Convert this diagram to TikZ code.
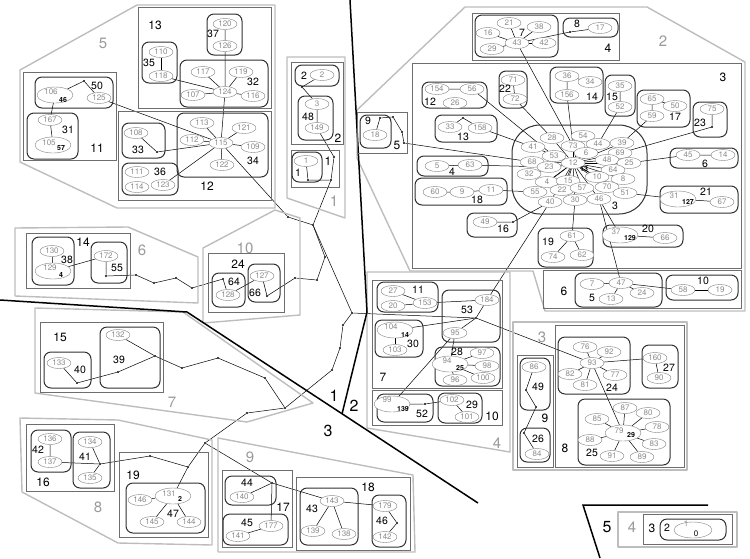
\documentclass[tikz,border=0pt]{standalone}
\usepackage{fontspec}
\setmainfont{TeX Gyre Heros}
\usetikzlibrary{shapes.geometric}
\pgfdeclarelayer{bg}
\pgfsetlayers{bg,main}
\definecolor{elgray}{HTML}{808080}
\definecolor{txgray}{HTML}{8C8C8C}
\definecolor{grpcol}{HTML}{303030}
\definecolor{boxcol}{HTML}{6E6E6E}
\definecolor{regcol}{HTML}{BDBDBD}
\definecolor{reggray}{HTML}{9A9A9A}
\newcommand{\ellfont}{\fontsize{8}{9}\selectfont}
\newcommand{\smallbold}{\fontsize{7}{8}\selectfont\bfseries}
\newcommand{\grplabfont}{\fontsize{10.5}{12}\selectfont}
\newcommand{\boxlabfont}{\fontsize{12}{14}\selectfont}
\newcommand{\reglabfont}{\fontsize{15}{17}\selectfont}
\newcommand{\divlabfont}{\fontsize{16}{18}\selectfont}

\begin{document}
\begin{tikzpicture}[x=1pt, y=-1pt,
  el/.style={ellipse, draw=elgray, fill=white, text=txgray, font=\ellfont, minimum width=24pt, minimum height=11pt, inner sep=0pt},
  bigel/.style={el, minimum width=36pt, minimum height=16pt},
  eltx/.style={text=txgray, font=\ellfont, inner sep=0pt},
  sb/.style={font=\smallbold, inner sep=0pt},
  grp/.style={draw=grpcol, line width=1pt, rounded corners=7pt},
  box/.style={draw=boxcol, line width=0.8pt},
  region/.style={draw=regcol, line width=1.4pt, line join=round},
  glab/.style={font=\grplabfont, inner sep=0pt},
  blab/.style={font=\boxlabfont, inner sep=0pt},
  rlab/.style={font=\reglabfont, text=reggray, inner sep=0pt},
  dlab/.style={font=\divlabfont, inner sep=0pt},
  dot/.style={circle, fill=black, inner sep=0pt, minimum size=2.2pt},
  link/.style={black, line width=0.5pt},
  divide/.style={black, line width=1.5pt}]
  \useasboundingbox (0,0) rectangle (750,558);

  % regions
  \draw[region] (20,70) -- (137,5) -- (275,5) -- (275,208) -- (117,208) -- (20,162) -- cycle;
  \draw[region] (287,57) -- (345,57) -- (345,218) -- (287,198) -- cycle;
  \draw[region] (15,228) -- (128,227) -- (198,257) -- (198,303) -- (15,296) -- cycle;
  \draw[region] (203,248) -- (275,210) -- (300,218) -- (300,315) -- (203,323) -- cycle;
  \draw[region] (35,308) -- (183,312) -- (313,403) -- (247,422) -- (35,393) -- cycle;
  \draw[region] (20,418) -- (118,420) -- (212,440) -- (212,545) -- (118,543) -- (22,492) -- cycle;
  \draw[region] (218,438) -- (413,475) -- (415,552) -- (218,552) -- cycle;
  \draw[region] (367,272) -- (510,272) -- (510,452) -- (367,428) -- cycle;
  \draw[region] (513,322) rectangle (687,470);
  \draw[region] (465,7) -- (647,7) -- (745,62) -- (745,311) -- (545,311) -- (533,271) -- (410,271) -- (357,158) -- (357,110) -- cycle;
  \draw[region] (618,512) rectangle (737,547);
  \node[rlab] (r5) at (103,43) {5};
  \node[rlab] (r1) at (334,201) {1};
  \node[rlab] (r6) at (142,250) {6};
  \node[rlab] (r10) at (245,248) {10};
  \node[rlab] (r7) at (172,402) {7};
  \node[rlab] (r8) at (98,507) {8};
  \node[rlab] (r9) at (250,457) {9};
  \node[rlab] (r4) at (497,443) {4};
  \node[rlab] (r3) at (542,337) {3};
  \node[rlab] (r2) at (663,41) {2};
  \node[rlab] (r4b) at (632,527) {4};

  % dividing lines
  \draw[divide] (350,0) -- (367,312) -- (342,414);
  \draw[divide] (0,300) -- (187,312) -- (478,503);
  \draw[divide] (708,505) -- (583,505) -- (600,558);
  \node[dlab] (d1) at (334,396) {1};
  \node[dlab] (d2) at (354,406) {2};
  \node[dlab] (d3) at (328,431) {3};
  \node[dlab] (d5) at (607,527) {5};

  % region 5
  \draw[box] (23,72) rectangle (116,160);
  \node[blab] (l11) at (97,148) {11};
  \draw[grp] (35,77) rectangle (113,108);
  \node[bigel] (e106) at (55,95) {};
  \node[eltx] (t106) at (51,92) {106};
  \node[sb] (s46) at (63,100) {46};
  \node[el] (e125) at (99,98) {125};
  \node[glab] (l50) at (97,86) {50};
  \node[dot] (p50) at (84,81) {};
  \draw[grp] (27,113) rectangle (78,159);
  \node[el] (e167) at (50,120) {167};
  \node[bigel] (e105) at (53,145) {};
  \node[eltx] (t105) at (49,143) {105};
  \node[sb] (s57) at (61,148) {57};
  \node[glab] (l31) at (68,130) {31};
  \draw[box] (138,7) rectangle (271,108);
  \node[blab] (l13) at (155,25) {13};
  \draw[grp] (142,42) rectangle (177,83);
  \node[el] (e110) at (161,52) {110};
  \node[el] (e118) at (161,76) {118};
  \node[glab] (l35) at (149,63) {35};
  \draw[grp] (207,14) rectangle (242,55);
  \node[el] (e120) at (225,24) {120};
  \node[el] (e126) at (225,46) {126};
  \node[glab] (l37) at (213,34) {37};
  \draw[grp] (180,60) rectangle (268,107);
  \node[el] (e117) at (203,72) {117};
  \node[el] (e119) at (241,72) {119};
  \node[el] (e107) at (193,95) {107};
  \node[el] (e124) at (225,92) {124};
  \node[el] (e116) at (253,96) {116};
  \node[glab] (l32) at (253,82) {32};
  \draw[box] (118,111) rectangle (271,200);
  \node[blab] (l12) at (207,186) {12};
  \draw[grp] (177,113) rectangle (268,177);
  \node[el] (e113) at (202,123) {113};
  \node[el] (e121) at (244,128) {121};
  \node[el] (e112) at (192,140) {112};
  \node[el] (e115) at (221,143) {115};
  \node[el] (e109) at (253,147) {109};
  \node[el] (e122) at (222,165) {122};
  \node[glab] (l34) at (253,161) {34};
  \draw[grp] (122,123) rectangle (165,158);
  \node[el] (e108) at (136,133) {108};
  \node[glab] (l33) at (138,150) {33};
  \node[dot] (p33) at (157,152) {};
  \draw[grp] (122,163) rectangle (178,195);
  \node[el] (e111) at (137,172) {111};
  \node[el] (e114) at (137,187) {114};
  \node[el] (e123) at (163,185) {123};
  \node[glab] (l36) at (160,172) {36};

  % region 1
  \draw[box] (291,62) rectangle (343,144);
  \node[blab] (l2box) at (338,138) {2};
  \draw[grp] (295,65) rectangle (339,86);
  \node[el] (e2) at (322,75) {2};
  \node[glab] (l2) at (304,76) {2};
  \node[dot] (p2) at (302,87) {};
  \draw[grp] (298,96) rectangle (333,140);
  \node[el] (e3) at (317,104) {3};
  \node[el] (e149) at (317,128) {149};
  \node[glab] (l48) at (308,117) {48};
  \draw[box] (291,150) rectangle (339,187);
  \node[blab] (l1box) at (328,161) {1};
  \draw[grp] (292,152) rectangle (322,182);
  \node[el] (e1) at (306,161) {1};
  \node[glab] (l1) at (298,173) {1};
  \node[dot] (p1a) at (308,180) {};
  \node[dot] (p1b) at (331,180) {};
  \node[dot] (p1c) at (334,157) {};

  % region 6
  \draw[box] (26,233) rectangle (130,288);
  \node[blab] (l14) at (83,242) {14};
  \draw[grp] (32,237) rectangle (74,285);
  \node[el] (e130) at (52,251) {130};
  \node[bigel] (e129) at (53,271) {};
  \node[eltx] (t129) at (50,268) {129};
  \node[sb] (s4) at (61,275) {4};
  \node[glab] (l38) at (67,260) {38};
  \draw[grp] (91,242) rectangle (127,283);
  \node[el] (e172) at (106,256) {172};
  \node[glab] (l55) at (117,268) {55};
  \node[dot] (p55) at (106,276) {};

  % region 10
  \draw[box] (208,253) rectangle (284,312);
  \node[blab] (l24) at (238,264) {24};
  \draw[grp] (212,273) rectangle (245,307);
  \node[el] (e128) at (228,295) {128};
  \node[glab] (l64) at (234,282) {64};
  \node[dot] (p64) at (223,279) {};
  \draw[grp] (248,264) rectangle (280,302);
  \node[el] (e127) at (262,276) {127};
  \node[glab] (l66) at (255,293) {66};
  \node[dot] (p66) at (267,296) {};

  % region 7
  \draw[box] (40,322) rectangle (163,392);
  \node[blab] (l15) at (60,337) {15};
  \draw[grp] (44,352) rectangle (91,388);
  \node[el] (e133) at (59,363) {133};
  \node[glab] (l40) at (80,370) {40};
  \node[dot] (p40) at (77,383) {};
  \draw[grp] (100,327) rectangle (160,388);
  \node[el] (e132) at (118,335) {132};
  \node[glab] (l39) at (119,360) {39};
  \node[dot] (p39a) at (118,372) {};
  \node[dot] (p39b) at (155,356) {};

  % region 8
  \draw[box] (26,424) rectangle (114,491);
  \node[blab] (l16) at (43,482) {16};
  \draw[grp] (31,430) rectangle (71,472);
  \node[el] (e136) at (50,439) {136};
  \node[el] (e137) at (50,462) {137};
  \node[glab] (l42) at (38,450) {42};
  \draw[grp] (73,432) rectangle (110,488);
  \node[el] (e134) at (90,442) {134};
  \node[el] (e135) at (90,478) {135};
  \node[glab] (l41) at (85,457) {41};
  \node[dot] (p41) at (100,464) {};
  \draw[box] (119,452) rectangle (208,537);
  \node[blab] (l19) at (133,475) {19};
  \draw[grp] (126,483) rectangle (205,533);
  \node[el] (e146) at (140,500) {146};
  \node[bigel] (e131) at (173,496) {};
  \node[eltx] (t131) at (169,494) {131};
  \node[sb] (s2) at (180,499) {2};
  \node[el] (e145) at (152,522) {145};
  \node[el] (e144) at (189,522) {144};
  \node[glab] (l47) at (173,514) {47};

  % region 9
  \draw[box] (222,470) rectangle (292,547);
  \node[blab] (l17) at (283,507) {17};
  \draw[grp] (225,476) rectangle (276,505);
  \node[glab] (l44) at (247,483) {44};
  \node[el] (e140) at (242,497) {140};
  \node[dot] (p44) at (272,483) {};
  \draw[grp] (223,514) rectangle (288,545);
  \node[glab] (l45) at (247,523) {45};
  \node[el] (e177) at (271,526) {177};
  \node[el] (e141) at (238,536) {141};
  \draw[box] (296,477) rectangle (410,550);
  \node[blab] (l18) at (368,487) {18};
  \draw[grp] (300,488) rectangle (358,545);
  \node[el] (e143) at (332,501) {143};
  \node[el] (e139) at (313,531) {139};
  \node[el] (e138) at (344,534) {138};
  \node[glab] (l43) at (312,509) {43};
  \draw[grp] (372,495) rectangle (406,547);
  \node[el] (e179) at (385,506) {179};
  \node[el] (e142) at (385,537) {142};
  \node[glab] (l46) at (382,521) {46};
  \node[dot] (p46) at (397,523) {};

  % region 4
  \draw[box] (372,280) rectangle (502,388);
  \node[blab] (l7) at (383,377) {7};
  \draw[box] (372,390) rectangle (502,425);
  \node[blab] (l10) at (492,416) {10};
  \draw[grp] (377,282) rectangle (438,312);
  \node[el] (e27) at (393,291) {27};
  \node[el] (e20) at (393,306) {20};
  \node[el] (e153) at (425,303) {153};
  \node[glab] (l11b) at (418,290) {11};
  \draw[grp] (442,290) rectangle (500,342);
  \node[el] (e184) at (487,300) {184};
  \node[el] (e95) at (455,333) {95};
  \node[glab] (l53) at (467,310) {53};
  \node[dot] (p53) at (476,318) {};
  \draw[grp] (375,320) rectangle (423,357);
  \node[bigel] (e104) at (395,330) {};
  \node[eltx] (t104) at (391,327) {104};
  \node[sb] (s14) at (405,335) {14};
  \node[el] (e103) at (395,350) {103};
  \node[glab] (l30) at (413,344) {30};
  \draw[grp] (435,347) rectangle (500,386);
  \node[el] (e97) at (482,353) {97};
  \node[bigel] (e94) at (450,364) {};
  \node[eltx] (t94) at (447,361) {94};
  \node[sb] (s25) at (460,368) {25};
  \node[el] (e98) at (487,366) {98};
  \node[el] (e100) at (483,378) {100};
  \node[el] (e96) at (455,380) {96};
  \node[glab] (l28) at (457,352) {28};
  \draw[grp] (377,394) rectangle (433,422);
  \node[bigel] (e99) at (392,404) {};
  \node[eltx] (t99) at (387,400) {99};
  \node[sb] (s139) at (403,409) {139};
  \node[glab] (l52) at (422,414) {52};
  \node[dot] (p52) at (425,404) {};
  \draw[grp] (438,393) rectangle (482,423);
  \node[el] (e102) at (452,400) {102};
  \node[el] (e101) at (467,417) {101};
  \node[glab] (l29) at (472,405) {29};

  % region 3
  \draw[box] (517,355) rectangle (553,467);
  \node[blab] (l9) at (545,418) {9};
  \draw[grp] (520,358) rectangle (550,410);
  \node[el] (e86) at (534,367) {86};
  \node[glab] (l49) at (538,387) {49};
  \node[dot] (p49a) at (526,390) {};
  \node[dot] (p49b) at (536,407) {};
  \draw[grp] (520,428) rectangle (550,462);
  \node[glab] (l26) at (538,439) {26};
  \node[el] (e84) at (537,454) {84};
  \node[dot] (p26) at (524,433) {};
  \draw[box] (555,325) rectangle (684,467);
  \node[blab] (l8) at (565,448) {8};
  \draw[grp] (558,337) rectangle (630,394);
  \node[el] (e76) at (585,347) {76};
  \node[el] (e92) at (609,352) {92};
  \node[el] (e93) at (592,363) {93};
  \node[el] (e82) at (570,374) {82};
  \node[el] (e77) at (615,375) {77};
  \node[el] (e81) at (585,385) {81};
  \node[glab] (l24b) at (612,388) {24};
  \draw[grp] (642,345) rectangle (678,388);
  \node[el] (e160) at (655,358) {160};
  \node[el] (e90) at (659,378) {90};
  \node[glab] (l27) at (669,368) {27};
  \draw[grp] (578,399) rectangle (670,465);
  \node[el] (e87) at (625,408) {87};
  \node[el] (e80) at (648,413) {80};
  \node[el] (e85) at (597,419) {85};
  \node[el] (e78) at (657,427) {78};
  \node[bigel] (e79) at (623,433) {};
  \node[eltx] (t79) at (619,431) {79};
  \node[sb] (s29) at (631,435) {29};
  \node[el] (e88) at (590,440) {88};
  \node[el] (e83) at (654,444) {83};
  \node[el] (e91) at (612,456) {91};
  \node[el] (e89) at (642,457) {89};
  \node[glab] (l25) at (592,453) {25};

  % region 2
  \draw[box] (472,13) rectangle (619,60);
  \node[blab] (l4) at (608,48) {4};
  \draw[grp] (475,15) rectangle (558,57);
  \node[el] (e21) at (509,23) {21};
  \node[el] (e38) at (539,27) {38};
  \node[el] (e16) at (488,33) {16};
  \node[el] (e43) at (517,43) {43};
  \node[el] (e42) at (544,43) {42};
  \node[el] (e29) at (492,49) {29};
  \node[glab] (l7b) at (522,33) {7};
  \draw[grp] (563,18) rectangle (618,37);
  \node[glab] (l8b) at (577,24) {8};
  \node[el] (e17) at (600,28) {17};
  \node[dot] (p8) at (570,32) {};

  \draw[box] (357,112) rectangle (407,153);
  \node[blab] (l5) at (397,145) {5};
  \draw[grp] (360,115) rectangle (391,148);
  \node[glab] (l9b) at (368,121) {9};
  \node[el] (e18) at (375,135) {18};
  \node[dot] (p5a) at (380,118) {};
  \node[dot] (p5b) at (393,117) {};
  \node[dot] (p5c) at (402,132) {};
  \node[dot] (p5d) at (404,143) {};

  \draw[box] (543,270) rectangle (741,308);
  \node[blab] (l6) at (564,291) {6};
  \draw[grp] (575,273) rectangle (662,307);
  \node[el] (e7) at (592,284) {7};
  \node[el] (e47) at (621,283) {47};
  \node[el] (e24) at (642,293) {24};
  \node[el] (e13) at (611,299) {13};
  \node[glab] (l5b) at (592,298) {5};
  \draw[grp] (666,275) rectangle (738,300);
  \node[el] (e58) at (683,290) {58};
  \node[el] (e19) at (720,290) {19};
  \node[glab] (l10b) at (703,281) {10};

  \draw[box] (412,63) rectangle (741,268);
  \node[blab] (l3) at (723,77) {3};
  \draw[grp] (422,82) rectangle (487,108);
  \node[el] (e154) at (437,89) {154};
  \node[el] (e56) at (472,89) {56};
  \node[el] (e26) at (455,103) {26};
  \node[glab] (l12b) at (430,102) {12};
  \draw[grp] (499,71) rectangle (527,108);
  \node[el] (e71) at (513,80) {71};
  \node[el] (e72) at (515,99) {72};
  \node[glab] (l22) at (505,89) {22};
  \draw[grp] (435,115) rectangle (497,142);
  \node[el] (e33) at (450,127) {33};
  \node[el] (e158) at (480,128) {158};
  \node[glab] (l13b) at (463,137) {13};
  \node[dot] (p13) at (463,118) {};
  \draw[grp] (417,156) rectangle (488,176);
  \node[el] (e5) at (437,166) {5};
  \node[el] (e63) at (470,165) {63};
  \node[glab] (l4b) at (452,172) {4};
  \draw[grp] (415,178) rectangle (507,205);
  \node[el] (e60) at (435,192) {60};
  \node[el] (e9) at (462,192) {9};
  \node[el] (e11) at (491,190) {11};
  \node[glab] (l18b) at (477,200) {18};
  \draw[grp] (467,213) rectangle (517,237);
  \node[el] (e49) at (485,222) {49};
  \node[glab] (l16b) at (503,229) {16};
  \node[dot] (p16) at (513,222) {};
  \draw[grp] (538,228) rectangle (593,267);
  \node[el] (e61) at (572,236) {61};
  \node[el] (e74) at (553,257) {74};
  \node[el] (e62) at (582,255) {62};
  \node[glab] (l19b) at (548,242) {19};
  \draw[grp] (603,225) rectangle (683,247);
  \node[bigel] (e37) at (620,235) {};
  \node[eltx] (t37) at (616,232) {37};
  \node[sb] (s129) at (630,238) {129};
  \node[el] (e66) at (665,238) {66};
  \node[glab] (l20) at (648,229) {20};
  \draw[grp] (660,186) rectangle (738,213);
  \node[bigel] (e31) at (678,199) {};
  \node[eltx] (t31) at (674,196) {31};
  \node[sb] (s127) at (688,202) {127};
  \node[el] (e67) at (722,202) {67};
  \node[glab] (l21) at (706,192) {21};
  \draw[grp] (670,148) rectangle (738,168);
  \node[el] (e45) at (688,155) {45};
  \node[el] (e14) at (723,155) {14};
  \node[glab] (l6b) at (705,164) {6};
  \draw[grp] (693,102) rectangle (727,137);
  \node[el] (e75) at (712,109) {75};
  \node[glab] (l23) at (700,123) {23};
  \node[dot] (p23) at (712,127) {};
  \draw[grp] (637,90) rectangle (690,127);
  \node[el] (e65) at (652,99) {65};
  \node[el] (e50) at (675,106) {50};
  \node[el] (e59) at (652,116) {59};
  \node[glab] (l17b) at (675,117) {17};
  \draw[grp] (605,75) rectangle (635,116);
  \node[el] (e35) at (620,86) {35};
  \node[el] (e52) at (620,107) {52};
  \node[glab] (l15b) at (612,97) {15};
  \draw[grp] (550,67) rectangle (603,103);
  \node[el] (e36) at (567,76) {36};
  \node[el] (e34) at (590,82) {34};
  \node[el] (e156) at (567,95) {156};
  \node[glab] (l14b) at (592,97) {14};

  % central group 3
  \draw[grp, rounded corners=28pt] (512,125) rectangle (647,214);
  \node[glab] (l3b) at (615,206) {3};
  \node[el] (e28) at (552,138) {28};
  \node[el] (e54) at (583,136) {54};
  \node[el] (e73) at (573,146) {73};
  \node[el] (e44) at (598,144) {44};
  \node[el] (e39) at (622,143) {39};
  \node[el] (e41) at (533,147) {41};
  \node[el] (e53) at (554,156) {53};
  \node[el] (e6) at (586,153) {6};
  \node[el] (e69) at (620,153) {69};
  \node[el] (e68) at (532,162) {68};
  \node[el] (e23) at (549,167) {23};
  \node[el] (e48) at (607,160) {48};
  \node[el] (e25) at (629,163) {25};
  \node[el] (e32) at (529,174) {32};
  \node[el] (e64) at (613,170) {64};
  \node[el] (e4) at (547,182) {4};
  \node[el] (e15) at (568,181) {15};
  \node[el] (e10) at (597,177) {10};
  \node[el] (e8) at (623,179) {8};
  \node[el] (e55) at (535,192) {55};
  \node[el] (e22) at (562,190) {22};
  \node[el] (e57) at (582,188) {57};
  \node[el] (e70) at (607,187) {70};
  \node[el] (e51) at (625,193) {51};
  \node[el] (e40) at (550,202) {40};
  \node[el] (e30) at (575,200) {30};
  \node[el] (e46) at (599,199) {46};
  \node[el] (e12) at (573,163) {12};
  \node[sb] (s13) at (584,169) {13};

  % chain points between regions
  \node[dot] (c1) at (288,217) {};
  \node[dot] (c2) at (313,225) {};
  \node[dot] (c3) at (325,257) {};
  \node[dot] (c4) at (317,280) {};
  \node[dot] (c5) at (295,278) {};
  \node[dot] (cj) at (352,313) {};
  \node[dot] (c6) at (343,325) {};
  \node[dot] (c7) at (340,348) {};
  \node[dot] (c8) at (332,370) {};
  \node[dot] (c9) at (285,408) {};
  \node[dot] (c10) at (265,378) {};
  \node[dot] (c11) at (218,358) {};
  \node[dot] (c12) at (182,368) {};
  \node[dot] (c13) at (247,413) {};
  \node[dot] (c14) at (205,443) {};
  \node[dot] (c15) at (188,467) {};
  \node[dot] (c16) at (150,456) {};
  \node[dot] (c17) at (136,275) {};
  \node[dot] (c18) at (154,283) {};
  \node[dot] (c19) at (176,278) {};
  \node[dot] (c20) at (192,288) {};

  % region 4 (bottom right)
  \draw[box] (643,514) rectangle (732,544);
  \node[blab] (l3c) at (652,528) {3};
  \draw[grp] (660,519) rectangle (726,540);
  \node[glab] (l2c) at (667,528) {2};
  \node[el, minimum width=38pt, minimum height=16pt] (e1b) at (693,530) {};
  \node[eltx] (t1) at (686,524) {1};
  \node[sb, font=\ellfont] (t0) at (696,534) {0};

  % connections
  \begin{pgfonlayer}{bg}
  \draw[link] (e106) -- (p50) -- (e125);
  \draw[link] (e106) -- (e167) -- (e105);
  \draw[link] (e110) -- (e118);
  \draw[link] (e118) -- (e124);
  \draw[link] (e120) -- (e126) -- (e124) -- (e115);
  \foreach \n in {e117,e119,e107,e116} \draw[link] (e124) -- (\n);
  \foreach \n in {e113,e121,e112,e109,e122} \draw[link] (e115) -- (\n);
  \draw[link] (e125) -- (e115);
  \draw[link] (e108) -- (p33) -- (e115);
  \draw[link] (e123) -- (e115);
  \draw[link] (e2) -- (p2) -- (e3) -- (e149);
  \draw[link] (e149) -- (p1c) -- (p1b);
  \draw[link] (e1) -- (p1a) -- (p1b);
  \draw[link] (e130) -- (e129) -- (e172) -- (p55);
  \draw[link] (p64) -- (e128) -- (e127) -- (p66);
  \draw[link] (e133) -- (p40) -- (p39a) -- (p39b);
  \draw[link] (e132) -- (p39b);
  \draw[link] (e136) -- (e137) -- (p41);
  \draw[link] (e134) -- (p41) -- (e135);
  \foreach \n in {e146,e145,e144} \draw[link] (e131) -- (\n);
  \draw[link] (e140) -- (p44) -- (e177) -- (e141);
  \draw[link] (p44) -- (e143);
  \draw[link] (e143) -- (e139);
  \draw[link] (e143) -- (e138);
  \draw[link] (e143) -- (e179) -- (p46) -- (e142);
  \draw[link] (e27) -- (e153);
  \draw[link] (e20) -- (e153) -- (e184) -- (p53) -- (e95);
  \draw[link] (e104) -- (p53);
  \draw[link] (e104) -- (e103);
  \draw[link] (e95) -- (e94);
  \foreach \n in {e97,e98,e100,e96} \draw[link] (e94) -- (\n);
  \draw[link] (e95) -- (e99) -- (p52) -- (e102) -- (e101);
  \draw[link] (e86) -- (p49a) -- (p49b) -- (p26) -- (e84);
  \foreach \n in {e76,e92,e82,e77,e81,e160,e79} \draw[link] (e93) -- (\n);
  \draw[link] (e160) -- (e90);
  \foreach \n in {e87,e80,e85,e78,e88,e83,e91,e89} \draw[link] (e79) -- (\n);
  \foreach \n in {e21,e38,e16,e42,e29} \draw[link] (e43) -- (\n);
  \draw[link] (e43) -- (p8) -- (e17);
  \draw[link] (e18) -- (p5a) -- (p5b) -- (p5c) -- (p5d);
  \foreach \n in {e7,e13,e24,e58} \draw[link] (e47) -- (\n);
  \draw[link] (e58) -- (e19);
  \draw[link] (e154) -- (e56) -- (e53);
  \draw[link] (e71) -- (e72) -- (e28);
  \draw[link] (e33) -- (p13) -- (e158) -- (e41);
  \draw[link] (e5) -- (e63) -- (e23);
  \draw[link] (e60) -- (e9) -- (e11) -- (e55);
  \draw[link] (e49) -- (p16) -- (e40);
  \draw[link] (e74) -- (e61) -- (e62);
  \draw[link] (e61) -- (e30);
  \draw[link] (e37) -- (e66);
  \draw[link] (e37) -- (e46) -- (e47);
  \draw[link] (e31) -- (e67);
  \draw[link] (e31) -- (e51);
  \draw[link] (e14) -- (e45) -- (e25);
  \draw[link] (e75) -- (p23) -- (e69);
  \draw[link] (e50) -- (e65) -- (e59) -- (e39);
  \draw[link] (e35) -- (e52) -- (e44);
  \draw[link] (e34) -- (e36) -- (e156) -- (e73);
  \draw[link] (e43) -- (e73);
  \draw[link] (p5d) -- (e68);
  \draw[link] (e40) -- (e184);
  \foreach \n in {e28,e54,e73,e44,e39,e41,e53,e6,e69,e68,e23,e48,e25,e32,e64,e4,e15,e10,e8,e55,e22,e57,e70,e51,e40,e30,e46}
    \draw[link] (e12) -- (\n);
  \draw[link] (e115) -- (c1) -- (c2);
  \draw[link] (p1b) -- (c2);
  \draw[link] (c2) -- (c3) -- (c4) -- (c5) -- (p66);
  \draw[link] (c2) -- (cj) -- (c6) -- (c7) -- (c8) -- (c9);
  \draw[link] (p39b) -- (c12) -- (c11) -- (c10) -- (c9);
  \draw[link] (c9) -- (c13) -- (c14) -- (c15) -- (e131);
  \draw[link] (c15) -- (c16) -- (p41);
  \draw[link] (c14) -- (p44);
  \draw[link] (p55) -- (c17) -- (c18) -- (c19) -- (c20) -- (p64);
  \draw[link] (cj) -- (p53) -- (e93);
  \end{pgfonlayer}
\end{tikzpicture}
\end{document}
